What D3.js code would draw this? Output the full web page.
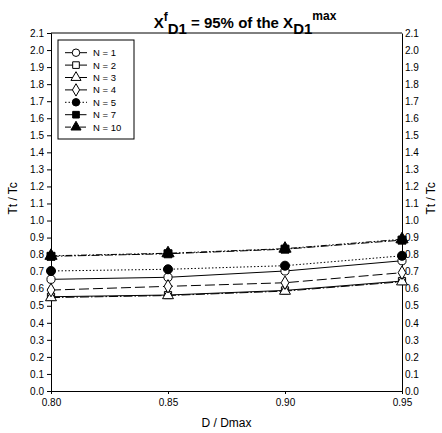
<!DOCTYPE html>
<html>
<head>
<meta charset="utf-8">
<script src="https://cdn.jsdelivr.net/npm/d3@7"></script>
<style>
  body { margin: 0; background: #fff; }
  svg { font-family: "Liberation Sans", Arial, sans-serif; }
  .axis path, .axis line { stroke: #000; stroke-width: 1; }
  .axis text { font-size: 10px; fill: #000; }
</style>
</head>
<body>
<div id="chart"></div>
<script>
// data
var dRatio = [0.80, 0.85, 0.90, 0.95];
var n1  = [0.655, 0.667, 0.704, 0.764];
var n2  = [0.553, 0.563, 0.590, 0.645];
var n3  = [0.548, 0.560, 0.586, 0.641];
var n4  = [0.592, 0.614, 0.635, 0.694];
var n5  = [0.704, 0.714, 0.735, 0.793];
var n7  = [0.790, 0.805, 0.832, 0.885];
var n10 = [0.793, 0.808, 0.835, 0.890];
var seriesNames = ["N = 1", "N = 2", "N = 3", "N = 4", "N = 5", "N = 7", "N = 10"];
var yTicks = d3.range(0, 22).map(d => d / 10);

var series = [
  {name: seriesNames[0], vals: n1,  sym: d3.symbolCircle,   fill: "#fff", dash: null},
  {name: seriesNames[1], vals: n2,  sym: d3.symbolSquare,   fill: "#fff", dash: null},
  {name: seriesNames[2], vals: n3,  sym: d3.symbolTriangle, fill: "#fff", dash: "9,2,1.5,2"},
  {name: seriesNames[3], vals: n4,  sym: d3.symbolDiamond,  fill: "#fff", dash: "10,4"},
  {name: seriesNames[4], vals: n5,  sym: d3.symbolCircle,   fill: "#000", dash: "1.5,2"},
  {name: seriesNames[5], vals: n7,  sym: d3.symbolSquare,   fill: "#000", dash: "8,2,1.5,2"},
  {name: seriesNames[6], vals: n10, sym: d3.symbolTriangle, fill: "#000", dash: "6,2,1.5,2,1.5,2"}
];

var W = 442, H = 433;
var margin = {left: 51, right: 40, top: 33, bottom: 42};

var svg = d3.select("#chart").append("svg")
    .attr("width", W)
    .attr("height", H);

var x = d3.scaleLinear()
    .domain([0.80, 0.95])
    .range([margin.left, W - margin.right]);

var y = d3.scaleLinear()
    .domain([0, 2.1])
    .range([H - margin.bottom, margin.top]);

// frame top line
svg.append("line")
    .attr("x1", x(0.80)).attr("x2", x(0.95))
    .attr("y1", y(2.1)).attr("y2", y(2.1))
    .attr("stroke", "#000");

svg.append("g")
    .attr("class", "axis")
    .attr("transform", `translate(0,${y(0)})`)
    .call(d3.axisBottom(x).tickValues(dRatio).tickFormat(d3.format(".2f")).tickSize(3).tickPadding(5));

svg.append("g")
    .attr("class", "axis")
    .attr("transform", `translate(${x(0.80)},0)`)
    .call(d3.axisLeft(y).tickValues(yTicks).tickFormat(d3.format(".1f")).tickSize(4).tickPadding(3));

svg.append("g")
    .attr("class", "axis")
    .attr("transform", `translate(${x(0.95)},0)`)
    .call(d3.axisRight(y).tickValues(yTicks).tickFormat(d3.format(".1f")).tickSize(0).tickPadding(3));

// axis titles
svg.append("text")
    .attr("x", (x(0.80) + x(0.95)) / 2)
    .attr("y", 427)
    .attr("text-anchor", "middle")
    .style("font-size", "12px")
    .text("D / Dmax");

svg.append("text")
    .attr("transform", `translate(17,${y(1.13)}) rotate(-90)`)
    .attr("text-anchor", "middle")
    .style("font-size", "12px")
    .text("Tt / Tc");

svg.append("text")
    .attr("transform", `translate(435,${y(1.13)}) rotate(-90)`)
    .attr("text-anchor", "middle")
    .style("font-size", "12px")
    .text("Tt / Tc");

// title
var title = svg.append("text")
    .attr("x", 245)
    .attr("y", 28)
    .attr("text-anchor", "middle")
    .style("font-size", "15px")
    .style("font-weight", "bold");
title.append("tspan").text("X");
title.append("tspan").attr("dy", -7).style("font-size", "12px").text("f");
title.append("tspan").attr("dy", 13).style("font-size", "15px").text("D1");
title.append("tspan").attr("dy", -6).text(" = 95% of the X");
title.append("tspan").attr("dy", 6).text("D1");
title.append("tspan").attr("dy", -14).style("font-size", "12px").text("max");

// lines
var line = d3.line()
    .x((d, i) => x(dRatio[i]))
    .y(d => y(d));

series.forEach(function(s) {
  svg.append("path")
    .attr("d", line(s.vals))
    .attr("fill", "none")
    .attr("stroke", "#000")
    .attr("stroke-width", 1)
    .attr("stroke-dasharray", s.dash);
});

series.forEach(function(s) {
  svg.selectAll(null)
    .data(s.vals).enter()
    .append("path")
      .attr("transform", (d, i) => `translate(${x(dRatio[i])},${y(d)})`)
      .attr("d", d3.symbol().type(s.sym).size(s.fill == "#000" ? 64 : 52))
      .attr("fill", s.fill)
      .attr("stroke", "#000")
      .attr("stroke-width", 1);
});

// legend
var lg = svg.append("g");
lg.append("rect")
    .attr("x", 58).attr("y", 40)
    .attr("width", 76).attr("height", 99)
    .attr("fill", "#fff")
    .attr("stroke", "#000");

series.forEach(function(s, i) {
  var ly = 52.7 + i * 12.4;
  lg.append("line")
    .attr("x1", 65).attr("x2", 87)
    .attr("y1", ly).attr("y2", ly)
    .attr("stroke", "#000")
    .attr("stroke-dasharray", s.dash);
  lg.append("path")
    .attr("transform", `translate(76,${ly})`)
    .attr("d", d3.symbol().type(s.sym).size(44))
    .attr("fill", s.fill)
    .attr("stroke", "#000");
  lg.append("text")
    .attr("x", 93).attr("y", ly + 3.5)
    .style("font-size", "9.5px")
    .text(s.name);
});
</script>
</body>
</html>
